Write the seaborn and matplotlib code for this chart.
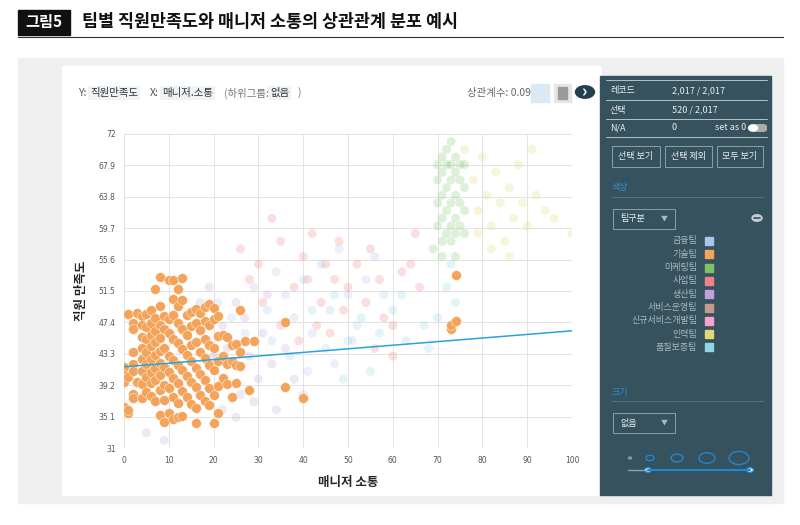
import matplotlib
matplotlib.use("Agg")
import matplotlib.pyplot as plt
from matplotlib.patches import Rectangle, FancyBboxPatch, Circle
import numpy as np
import pandas as pd
import seaborn as sns

plt.rcParams["font.family"] = ["Noto Sans CJK KR", "DejaVu Sans"]

# ---- data ----
y_ticks = [31, 35.1, 39.2, 43.3, 47.4, 51.5, 55.6, 59.7, 63.8, 67.9, 72]
x_ticks = [0, 10, 20, 30, 40, 50, 60, 70, 80, 90, 100]
reg_intercept = 41.6
reg_slope = 0.047

teams = ["금융팀", "기술팀", "마케팅팀", "사업팀", "생산팀", "서비스운영팀",
         "신규서비스개발팀", "인력팀", "품질보증팀"]
team_colors = ["#a9c6ea", "#f4a35a", "#7cc46b", "#f08383", "#c5a0d8",
               "#c59a8c", "#f3a3cc", "#e2d873", "#8fd5e2"]

orange_pts = [
    (0, 41.6), (0, 40.5), (0, 39.6), (0, 36.3), (1, 35.6), (1, 36), (1, 40.3), (1, 48.5),
    (2, 47.3), (2, 46.6), (2, 43.6), (2, 42), (2, 41), (2, 38), (2, 37.5), (3, 48.6), (3, 39.6),
    (4, 48.3), (4, 47), (4, 45.5), (4, 44), (4, 42.6), (4, 41), (4, 39.3), (4, 37.5),
    (5, 48.5), (5, 46.8), (5, 45.2), (5, 43.5), (5, 42), (5, 40.3), (5, 38.3),
    (6, 49), (6, 47.3), (6, 45.8), (6, 44.3), (6, 42.6), (6, 40.9), (6, 39.5), (6, 37.8),
    (7, 51.8), (7, 48), (7, 46.3), (7, 44.8), (7, 43.1), (7, 41.4), (7, 39.9), (7, 37.1),
    (8, 53.3), (8, 49.6), (8, 47.1), (8, 45.4), (8, 43.7), (8, 42.1), (8, 40.5), (8, 38.6), (8, 35.3),
    (9, 48.2), (9, 46.6), (9, 44.1), (9, 41.6), (9, 39.2), (9, 37.3), (9, 34.4),
    (10, 52.9), (10, 47.9), (10, 46), (10, 43), (10, 40.9), (10, 38.8), (10, 35.6),
    (11, 52.9), (11, 50.5), (11, 48.4), (11, 45.2), (11, 42.5), (11, 40.1), (11, 37.7), (11, 34.8),
    (12, 51.8), (12, 49.5), (12, 47.3), (12, 44.7), (12, 41.9), (12, 39.5), (12, 36.9), (12, 35.1),
    (13, 53.2), (13, 50.3), (13, 46.5), (13, 43.9), (13, 41.2), (13, 38.4), (13, 35.2),
    (14, 48.4), (14, 45.8), (14, 43.2), (14, 40.4), (14, 37.6),
    (15, 48.8), (15, 46.9), (15, 44.5), (15, 42.3), (15, 39.6), (15, 36.7),
    (16, 49.1), (16, 47.3), (16, 44.9), (16, 41.5), (16, 38.9), (16, 36.2), (16, 34.3),
    (17, 48.6), (17, 46.4), (17, 43.6), (17, 40.6), (17, 37.9),
    (18, 49.4), (18, 47.6), (18, 45.2), (18, 42.8), (18, 39.9), (18, 37.2),
    (19, 49.8), (19, 47), (19, 44.5), (19, 41.9), (19, 38.8), (19, 36.6),
    (20, 49.3), (20, 47.8), (20, 44), (20, 41.2), (20, 37.9), (20, 34.3),
    (21, 48.2), (21, 45.6), (21, 42.4), (21, 39.1), (21, 35.6), (22, 45.8), (22, 43), (22, 40.2),
    (23, 45.5), (23, 42), (23, 39.4), (24, 44.4), (24, 42.3), (24, 37.7),
    (25, 44.6), (25, 41.9), (25, 39.5), (26, 49), (26, 43.5), (26, 41.7), (27, 45), (28, 38.6),
    (29, 45), (36, 47.5), (36, 39), (40, 37.5), (73, 46.5), (73, 47), (74, 47.6), (74, 53.6),
]

faded_sales = [(26, 57), (30, 55), (33, 61), (35, 58), (38, 52), (40, 56), (42, 59), (44, 50),
               (45, 55), (47, 53), (48, 58), (50, 52), (52, 55), (54, 50), (55, 57), (57, 53),
               (58, 48), (60, 47), (62, 54), (64, 55), (65, 59), (66, 52), (35, 47), (39, 45),
               (43, 47), (46, 46), (31, 50), (28, 53), (41, 53), (49, 49), (56, 44), (60, 43)]
faded_finance = [(21, 50), (24, 48), (27, 46), (29, 52), (32, 49), (34, 54), (36, 51), (38, 48),
                 (40, 53), (42, 46), (44, 55), (46, 49), (48, 57), (50, 51), (52, 47), (54, 53),
                 (56, 56), (58, 51), (37, 43), (41, 41), (45, 44), (33, 45), (47, 42), (51, 45)]
faded_purple = [(17, 50), (19, 52), (22, 47), (23, 44), (25, 50), (26, 38), (28, 43), (30, 40),
                (31, 46), (33, 42), (34, 36), (36, 44), (38, 40), (22, 36), (25, 35), (29, 37),
                (32, 51), (27, 48), (20, 43), (9, 32), (5, 33), (40, 38)]
faded_teal = [(42, 49), (47, 51), (50, 45), (53, 48), (57, 46), (60, 49), (63, 45), (67, 47),
              (70, 48), (72, 52), (73, 55), (74, 50), (55, 41), (49, 40), (62, 51), (68, 44)]
faded_green = [(70, 60), (70, 63), (70, 66), (71, 58), (71, 61), (71, 64), (71, 67), (71, 69),
               (72, 59), (72, 62), (72, 65), (72, 68), (72, 70), (73, 58), (73, 60), (73, 63),
               (73, 66), (73, 68), (73, 71), (74, 59), (74, 61), (74, 64), (74, 67), (74, 69),
               (75, 60), (75, 63), (75, 66), (76, 62), (76, 65), (76, 68), (69, 57), (70, 68),
               (75, 68), (76, 59), (71, 56), (74, 56)]
faded_yellow = [(76, 70), (78, 66), (79, 62), (80, 69), (81, 64), (82, 60), (83, 67), (84, 63),
                (85, 58), (86, 65), (87, 61), (88, 68), (89, 63), (90, 60), (91, 70), (92, 64),
                (94, 62), (96, 61), (100, 59), (82, 57), (86, 56), (79, 59)]

faded_groups = [(faded_sales, 3), (faded_finance, 0), (faded_purple, 4),
                (faded_teal, 8), (faded_green, 2), (faded_yellow, 7)]

# ---- figure frame ----
W, H = 800, 525
fig = plt.figure(figsize=(8, 5.25), dpi=100)
fig.patch.set_facecolor("white")
FS = 6.5


def fx(px):
    return px / W


def fy(py):
    return 1 - py / H


def frect(x0, y0, x1, y1, z=-5, **kw):
    fig.patches.append(Rectangle((fx(x0), fy(y1)), fx(x1 - x0), (y1 - y0) / H,
                                 transform=fig.transFigure, zorder=z, **kw))


def ftext(px, py, s, **kw):
    kw.setdefault("fontsize", FS)
    kw.setdefault("va", "center")
    fig.text(fx(px), fy(py), s, family="Noto Sans CJK KR", **kw)


# title bar
frect(18, 10, 70, 35, color="#111111")
ftext(44, 22, "그림5", color="white", fontsize=11, fontweight="bold", ha="center")
ftext(82, 22, "팀별 직원만족도와 매니저 소통의 상관관계 분포 예시", fontsize=12.5,
      fontweight="bold", color="#111111")
fig.lines.append(plt.Line2D([fx(18), fx(783)], [fy(37), fy(37)], transform=fig.transFigure,
                            color="#333333", lw=0.8))

frect(18, 58, 783, 503, color="#efefef")
frect(62, 66, 600, 495, z=-4, color="white")
frect(600, 76, 771, 495, z=-4, color="#36525f")

# header row
hb = dict(fc="#eef3f7", ec="none", pad=1.5)
ftext(78, 93, "Y:", fontsize=7.5, color="#555555")
ftext(90, 93, "직원만족도", fontsize=7.5, color="#333333", bbox=hb)
ftext(150, 93, "X:", fontsize=7.5, color="#555555")
ftext(162, 93, "매니저.소통", fontsize=7.5, color="#333333", bbox=hb)
ftext(224, 93, "(하위그룹:", fontsize=7.5, color="#777777")
ftext(270, 93, "없음", fontsize=7.5, color="#333333", bbox=hb)
ftext(298, 93, ")", fontsize=7.5, color="#777777")
ftext(467, 93, "상관계수: 0.09", fontsize=7.5, color="#666666")
frect(531, 84, 549, 102, z=-3, color="#dbe9f4")
frect(554, 84, 571, 102, z=-3, color="#e6e6e6")
frect(558, 87, 567, 99, z=-2, color="#9a9a9a")
fig.patches.append(Circle((fx(585), fy(92)), 9.5 / W, transform=fig.transFigure, color="#24404e"))
ftext(585, 92, "›", fontsize=12, color="white", ha="center", fontweight="bold")

# ---- scatter ----
sns.set_style("whitegrid")
ax = fig.add_axes([fx(124), fy(448), fx(572) - fx(124), (448 - 134) / H])
ax.set_zorder(5)
ax.set_facecolor("white")

rows = []
for pts, ti in faded_groups:
    for x, y in pts:
        rows.append({"x": x, "y": y, "team": teams[ti]})
faded_df = pd.DataFrame(rows)
sns.scatterplot(data=faded_df, x="x", y="y", hue="team",
                palette={t: c for t, c in zip(teams, team_colors)},
                s=42, alpha=0.25, linewidth=0, legend=False, ax=ax)

orange_df = pd.DataFrame(orange_pts, columns=["x", "y"])
sns.scatterplot(data=orange_df, x="x", y="y", color=team_colors[1], s=50,
                edgecolor="white", linewidth=0.3, legend=False, ax=ax, zorder=3)

ax.axline((0, reg_intercept), slope=reg_slope, color="#29a3dd", lw=1.1, zorder=4)

ax.set_xlim(0, 100)
ax.set_ylim(31, 72)
ax.set_xticks(x_ticks)
ax.set_yticks(y_ticks)
ax.set_xticklabels([str(t) for t in x_ticks], fontsize=5.5, color="#555555")
ax.set_yticklabels([str(t) for t in y_ticks], fontsize=5.5, color="#555555")
ax.grid(True, color="#e3e3e3", lw=0.7)
for s in ax.spines.values():
    s.set_visible(False)
ax.tick_params(length=0, pad=6)
ax.set_xlabel("매니저 소통", fontsize=9, fontweight="bold", labelpad=8, family="Noto Sans CJK KR")
ax.set_ylabel("직원 만족도", fontsize=9, fontweight="bold", labelpad=8, family="Noto Sans CJK KR")

# ---- right panel ----
pc = "#e8eef1"
for yy in (80, 100, 119, 137):
    fig.lines.append(plt.Line2D([fx(606), fx(767)], [fy(yy), fy(yy)], transform=fig.transFigure,
                                color="#c9d3d8", lw=0.6))
ftext(610, 91, "레코드", color=pc)
ftext(672, 91, "2,017 / 2,017", color=pc)
ftext(610, 110, "선택", color=pc)
ftext(672, 110, "520 / 2,017", color=pc)
ftext(610, 128, "N/A", color=pc)
ftext(672, 128, "0", color=pc)
ftext(715, 128, "set as 0", color=pc)
fig.patches.append(FancyBboxPatch((fx(749), fy(132)), fx(18), 8 / H,
                                  boxstyle="round,pad=0,rounding_size=0.005",
                                  transform=fig.transFigure, fc="#aaaaaa", ec="none"))
fig.patches.append(Circle((fx(753), fy(128)), 4.5 / W, transform=fig.transFigure, color="white"))

for x0, x1, lab in ((612, 660, "선택 보기"), (665, 712, "선택 제외"), (717, 763, "모두 보기")):
    frect(x0, 146, x1, 167, z=-3, fill=False, ec="#8aa0ab", lw=0.7)
    ftext((x0 + x1) / 2, 156.5, lab, color=pc, ha="center")

ftext(612, 188, "색상", color="#2f8fd0")
fig.lines.append(plt.Line2D([fx(612), fx(763)], [fy(197), fy(197)], transform=fig.transFigure,
                            color="#5e7884", lw=0.6))
frect(613, 209, 675, 229, z=-3, fill=False, ec="#8aa0ab", lw=0.7)
ftext(620, 219, "팀구분", color=pc)
ftext(664, 219, "▼", fontsize=5, color="#aab8bf", ha="center")
fig.patches.append(Circle((fx(757), fy(218)), 5 / W, transform=fig.transFigure, color="#c5ced3"))
fig.lines.append(plt.Line2D([fx(754), fx(760)], [fy(218), fy(218)], transform=fig.transFigure,
                            color="#36525f", lw=1.2))

for i, (t, c) in enumerate(zip(teams, team_colors)):
    yy = 241 + i * 13.3
    ftext(697, yy, t, color="#a9b8bf", ha="right")
    frect(705, yy - 4, 713, yy + 4, z=-3, color=c)

ftext(612, 393, "크기", color="#2f8fd0")
fig.lines.append(plt.Line2D([fx(612), fx(763)], [fy(401), fy(401)], transform=fig.transFigure,
                            color="#5e7884", lw=0.6))
frect(613, 413, 675, 433, z=-3, fill=False, ec="#8aa0ab", lw=0.7)
ftext(620, 423, "없음", color=pc)
ftext(664, 423, "▼", fontsize=5, color="#aab8bf", ha="center")

for cx, r, col in ((630, 1.5, "#8aa0ab"), (650, 4, "#1e88d0"), (677, 6, "#1e88d0"),
                   (707, 8, "#1e88d0"), (739, 10, "#1e88d0")):
    fig.patches.append(Circle((fx(cx), fy(458)), r / W, transform=fig.transFigure,
                              fill=False, ec=col, lw=1))
fig.lines.append(plt.Line2D([fx(628), fx(648)], [fy(470), fy(470)], transform=fig.transFigure,
                            color="#8aa0ab", lw=1))
fig.lines.append(plt.Line2D([fx(648), fx(750)], [fy(470), fy(470)], transform=fig.transFigure,
                            color="#1e88d0", lw=1.5))
for cx in (648, 750):
    fig.patches.append(Circle((fx(cx), fy(470)), 3.5 / W, transform=fig.transFigure,
                              fc="white", ec="#1e88d0", lw=1))

fig.savefig("out.png", dpi=100)
